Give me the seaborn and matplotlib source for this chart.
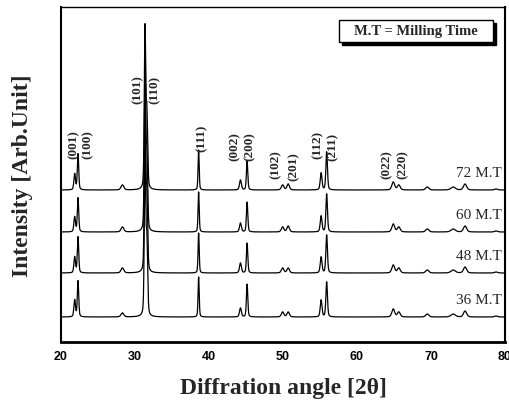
import numpy as np
import pandas as pd
import matplotlib
matplotlib.use("Agg")
import matplotlib.pyplot as plt
from matplotlib.patches import Rectangle
import seaborn as sns

# ---- data ----
series_names = ["36 M.T", "48 M.T", "60 M.T", "72 M.T"]
series_offsets = [25, 69, 110, 152]            # baseline of each stacked pattern (arb. units)
peak_pos = [21.85, 22.3, 28.3, 31.35, 31.6, 38.6, 44.25, 45.15, 49.95, 50.7,
            55.15, 55.9, 64.9, 65.65, 69.5, 73.0, 74.6, 78.8]
peak_fwhm = [0.25, 0.22, 0.45, 0.22, 0.25, 0.18, 0.3, 0.22, 0.4, 0.4,
             0.28, 0.25, 0.45, 0.45, 0.5, 0.7, 0.5, 0.5]
h36 = [17, 36, 4, 158, 75, 40, 9, 33, 5, 5, 17, 35, 8, 5, 3, 3, 6, 1]
h48 = [16, 36, 5, 158, 75, 40, 10, 30, 5, 5, 16, 38, 8, 5, 3, 3, 6, 1]
h60 = [15, 34, 5, 158, 75, 40, 9, 30, 5, 6, 16, 38, 8, 5, 3, 3, 6, 1]
h72 = [16, 36, 5, 158, 75, 40, 10, 29, 5, 6, 17, 38, 8, 5, 3, 3, 6, 1]
series_heights = [h36, h48, h60, h72]

hkl_labels = ["(001)", "(100)", "(101)", "(110)", "(111)", "(002)", "(200)",
              "(102)", "(201)", "(112)", "(211)", "(022)", "(220)"]
hkl_x = [21.7, 23.65, 30.4, 32.6, 39.05, 43.5, 45.5, 49.05, 51.5, 54.7, 56.75, 64.05, 66.2]
hkl_y = [198, 198, 253, 253, 205, 196, 196, 178, 176, 198, 196, 178, 178]

xticks = [20, 30, 40, 50, 60, 70, 80]

# ---- build pattern profiles from peak list (pseudo-Voigt) ----
two_theta = np.arange(20, 80.001, 0.02)
eta = 0.35
rows = []
for name, off, hs in zip(series_names, series_offsets, series_heights):
    y = np.full_like(two_theta, float(off))
    for p, w, h in zip(peak_pos, peak_fwhm, hs):
        g = (w / 2) ** 2
        lor = g / ((two_theta - p) ** 2 + g)
        gau = np.exp(-4 * np.log(2) * (two_theta - p) ** 2 / w ** 2)
        y += h * (eta * lor + (1 - eta) * gau)
    rows.append(pd.DataFrame({"2theta": two_theta, "I": y, "series": name}))
df = pd.concat(rows, ignore_index=True)

# ---- plot ----
sns.set_theme(style="white")
plt.rcParams["font.family"] = ["Liberation Serif", "DejaVu Serif"]

fig = plt.figure(figsize=(5.10, 4.06), dpi=100)
ax = fig.add_axes([61 / 510, 63 / 406, 444 / 510, 335 / 406])

sns.lineplot(data=df, x="2theta", y="I", hue="series",
             palette=["black"] * 4, linewidth=0.9, legend=False, ax=ax,
             estimator=None, sort=False)

ax.set_xlim(20, 80)
ax.set_ylim(0, 335)
ax.set_yticks([])
ax.set_xticks(xticks)
ax.set_xticklabels([str(t) for t in xticks], fontfamily="Liberation Sans",
                   fontweight="bold", fontsize=9)
ax.tick_params(axis="x", direction="out", length=4, width=1, pad=1.5, colors="black")

for side, lw in zip(["left", "bottom", "top", "right"], [1.5, 2.0, 1.0, 1.5]):
    ax.spines[side].set_visible(True)
    ax.spines[side].set_color("black")
    ax.spines[side].set_linewidth(lw)

ax.set_xlabel("Diffration angle [2θ]", fontsize=17, fontweight="bold",
              fontfamily="Liberation Serif")
ax.xaxis.set_label_coords(0.5, -0.104)
ax.set_ylabel("Intensity [Arb.Unit]", fontsize=17, fontweight="bold",
              fontfamily="Liberation Serif")
ax.yaxis.set_label_coords(-0.063, 0.5)

# hkl annotations
for lab, lx, ly in zip(hkl_labels, hkl_x, hkl_y):
    ax.text(lx, ly, lab, rotation=90, ha="center", va="center",
            fontsize=9.5, fontweight="bold", fontfamily="Liberation Serif")

# series labels
for name, off in zip(series_names, series_offsets):
    ax.text(79.6, off + 17, name, ha="right", va="center", fontsize=11,
            fontfamily="Liberation Serif")

# legend-like box with shadow
bx0, bx1 = (339 - 61) / 444, (493 - 61) / 444
by0, by1 = (343 - 43) / 335, (343 - 21) / 335
ax.add_patch(Rectangle((bx0 + 3 / 444, by0 - 3 / 335), bx1 - bx0, by1 - by0,
                       transform=ax.transAxes, facecolor="black",
                       edgecolor="black", zorder=5))
ax.add_patch(Rectangle((bx0, by0), bx1 - bx0, by1 - by0,
                       transform=ax.transAxes, facecolor="white",
                       edgecolor="black", linewidth=1, zorder=6))
ax.text((bx0 + bx1) / 2, (by0 + by1) / 2, "M.T = Milling Time",
        transform=ax.transAxes, ha="center", va="center", fontsize=10.5,
        fontweight="bold", fontfamily="Liberation Serif", zorder=7)

fig.savefig("out.png", dpi=100)
